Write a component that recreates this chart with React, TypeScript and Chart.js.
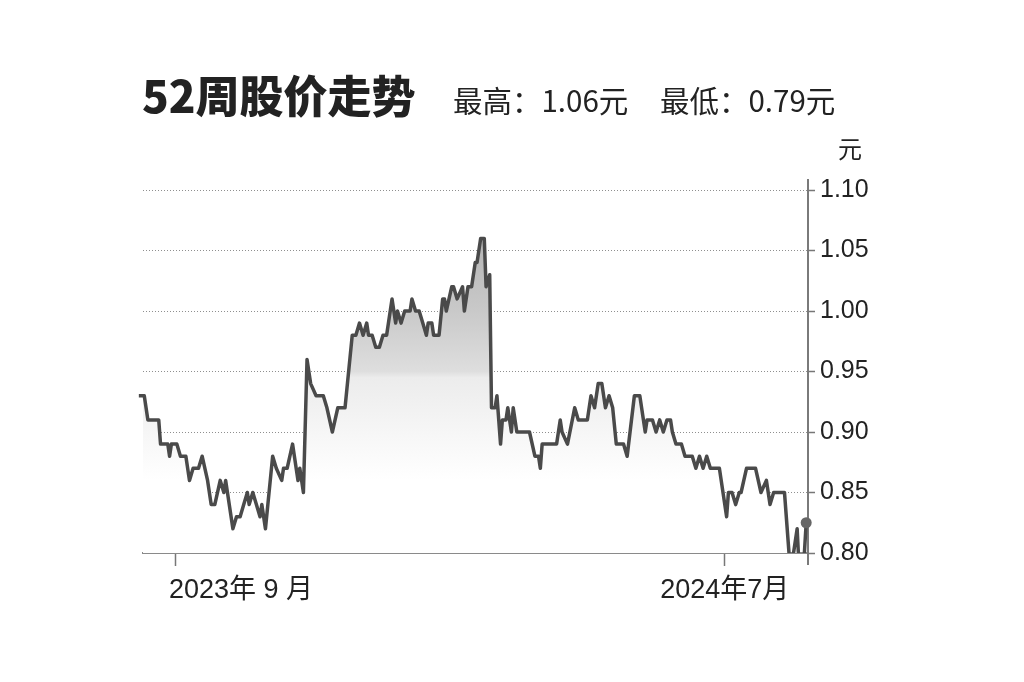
import React, { useEffect, useRef } from 'react';
import { Chart, registerables } from 'chart.js';

Chart.register(...registerables);

// x values: calendar days counted from 2023-08-01
const tradeDays = [
  11, 14, 16, 22, 23, 27, 28, 29, 32, 34,
  37, 39, 41, 44, 46, 49, 51, 53, 56, 58,
  59, 63, 65, 67, 69, 71, 72, 74, 76, 78,
  79, 81, 85, 87, 90, 91, 93, 96, 99, 100,
  102, 104, 106, 109, 113, 115, 118, 121, 125, 129,
  131, 133, 135, 137, 138, 140, 142, 144, 146, 148,
  151, 153, 154, 156, 158, 161, 162, 164, 166, 168,
  170, 171, 173, 174, 177, 179, 180, 181, 184, 185,
  187, 190, 191, 193, 195, 197, 198, 200, 202, 203,
  205, 206, 208, 209, 211, 212, 214, 215, 217, 218,
  220, 227, 230, 232, 233, 234, 242, 244, 245, 248,
  252, 254, 259, 261, 263, 265, 267, 269, 271, 273,
  275, 279, 281, 285, 288, 291, 292, 295, 297, 299,
  301, 303, 305, 306, 308, 311, 313, 317, 319, 321,
  323, 325, 327, 332, 336, 337, 339, 341, 343, 344,
  347, 352, 355, 358, 360, 362, 368, 371, 373, 375,
  376, 379, 380,
];

const closePrices = [
  0.93, 0.93, 0.91, 0.91, 0.89, 0.89, 0.88, 0.89, 0.89, 0.88,
  0.88, 0.86, 0.87, 0.87, 0.88, 0.86, 0.84, 0.84, 0.86, 0.85,
  0.86, 0.82, 0.83, 0.83, 0.84, 0.85, 0.84, 0.85, 0.84, 0.83,
  0.84, 0.82, 0.88, 0.87, 0.86, 0.87, 0.87, 0.89, 0.86, 0.87,
  0.85, 0.96, 0.94, 0.93, 0.93, 0.92, 0.90, 0.92, 0.92, 0.98,
  0.98, 0.99, 0.98, 0.99, 0.98, 0.98, 0.97, 0.97, 0.98, 0.98,
  1.01, 0.99, 1.00, 0.99, 1.00, 1.00, 1.01, 1.00, 1.00, 0.99,
  0.98, 0.99, 0.99, 0.98, 0.98, 1.01, 1.01, 1.00, 1.02, 1.02,
  1.01, 1.02, 1.00, 1.02, 1.02, 1.04, 1.04, 1.06, 1.06, 1.02,
  1.03, 0.92, 0.92, 0.93, 0.89, 0.91, 0.91, 0.92, 0.90, 0.92,
  0.90, 0.90, 0.88, 0.88, 0.87, 0.89, 0.89, 0.91, 0.90, 0.89,
  0.92, 0.91, 0.91, 0.93, 0.92, 0.94, 0.94, 0.92, 0.93, 0.92,
  0.89, 0.89, 0.88, 0.93, 0.93, 0.90, 0.91, 0.91, 0.90, 0.91,
  0.90, 0.91, 0.91, 0.90, 0.89, 0.89, 0.88, 0.88, 0.87, 0.88,
  0.87, 0.88, 0.87, 0.87, 0.83, 0.85, 0.85, 0.84, 0.85, 0.85,
  0.87, 0.87, 0.85, 0.86, 0.84, 0.85, 0.85, 0.79, 0.80, 0.82,
  0.79, 0.80, 0.825,
];

const xTickDays = [31, 335];
const xTickLabels = ['2023年 9 月', '2024年7月'];
const yTickValues = [0.8, 0.85, 0.9, 0.95, 1.0, 1.05, 1.1];

const titleText = '52周股价走势';
const highText = '最高：1.06元';
const lowText = '最低：0.79元';
const unitText = '元';

export default function App() {
  const ref = useRef<HTMLCanvasElement>(null);

  useEffect(() => {
    const canvas = ref.current;
    if (!canvas) return;

    const extras = {
      id: 'extras',
      beforeDatasetsDraw(chart: any) {
        const { ctx, chartArea, scales } = chart;
        const y = scales.y;
        ctx.save();
        ctx.strokeStyle = '#7a7a7a';
        ctx.lineWidth = 2;
        ctx.beginPath();
        ctx.moveTo(chartArea.right, y.getPixelForValue(yTickValues[yTickValues.length - 1]) - 11);
        ctx.lineTo(chartArea.right, chartArea.bottom + 12);
        ctx.stroke();
        ctx.restore();
      },
      afterDraw(chart: any) {
        const { ctx, chartArea, scales } = chart;
        const x = scales.x;
        ctx.save();
        ctx.fillStyle = '#222';
        ctx.font = '27px "Liberation Sans", "Noto Sans CJK SC", sans-serif';
        ctx.textBaseline = 'top';
        xTickDays.forEach((d, i) => {
          const px = x.getPixelForValue(d);
          ctx.textAlign = i === 0 ? 'left' : 'center';
          ctx.fillText(xTickLabels[i], i === 0 ? px - 6 : px, chartArea.bottom + 24);
        });
        ctx.restore();
      },
    };

    const lastIndex = closePrices.length - 1;

    const chart = new Chart(canvas, {
      type: 'line',
      data: {
        datasets: [
          {
            data: tradeDays.map((d, i) => ({ x: d, y: closePrices[i] })),
            borderColor: '#4a4a4a',
            borderWidth: 3.5,
            borderJoinStyle: 'round',
            tension: 0,
            fill: 'start',
            backgroundColor: (c: any) => {
              const ch = c.chart;
              if (!ch.chartArea) return 'rgba(0,0,0,0)';
              const ys = ch.scales.y;
              const g = ch.ctx.createLinearGradient(0, ys.getPixelForValue(1.06), 0, ys.getPixelForValue(0.86));
              g.addColorStop(0, '#b5b5b5');
              g.addColorStop(0.3, '#c9c9c9');
              g.addColorStop(0.55, '#dedede');
              g.addColorStop(0.575, '#ececec');
              g.addColorStop(0.8, '#f6f6f6');
              g.addColorStop(1, '#ffffff');
              return g;
            },
            pointRadius: (c: any) => (c.dataIndex === lastIndex ? 5.5 : 0),
            pointHoverRadius: 0,
            pointBackgroundColor: '#666',
            pointBorderWidth: 0,
            clip: { left: 8, right: 8, top: false, bottom: 0 } as any,
          },
        ],
      },
      options: {
        responsive: false,
        animation: false,
        events: [],
        layout: { padding: { left: 143, top: 190, right: 0, bottom: 0 } },
        plugins: {
          legend: { display: false },
          tooltip: { enabled: false },
          title: { display: false },
        },
        scales: {
          x: {
            type: 'linear',
            min: 13.3,
            max: 381,
            afterBuildTicks: (s: any) => {
              s.ticks = xTickDays.map((v) => ({ value: v }));
            },
            ticks: { display: false },
            grid: {
              drawOnChartArea: false,
              drawTicks: true,
              tickLength: 13,
              tickColor: '#777',
              tickWidth: 1.5,
            },
            border: { display: true, color: '#8a8a8a', width: 2 },
            afterFit: (s: any) => {
              s.height = 129;
            },
          },
          y: {
            position: 'right',
            min: 0.8,
            max: 1.1,
            afterBuildTicks: (s: any) => {
              s.ticks = yTickValues.map((v) => ({ value: v }));
            },
            ticks: {
              color: '#222',
              font: { size: 25, family: '"Liberation Sans", sans-serif' },
              padding: 5,
              callback: (v: any) => Number(v).toFixed(2),
            },
            grid: {
              color: '#8f8f8f',
              lineWidth: 1,
              drawTicks: true,
              tickLength: 7,
              tickColor: '#777',
              tickWidth: 1.5,
              tickBorderDash: [],
            },
            border: { display: false, dash: [1, 2] },
            afterFit: (s: any) => {
              s.width = 216;
            },
          },
        },
      },
      plugins: [extras],
    });

    return () => chart.destroy();
  }, []);

  const font = '"Noto Sans CJK SC", "Liberation Sans", sans-serif';

  return (
    <div style={{ position: 'fixed', left: 0, top: 0, width: 1024, height: 682, background: '#fff', overflow: 'hidden' }}>
      <canvas ref={ref} width={1024} height={682} style={{ position: 'absolute', left: 0, top: 0, width: 1024, height: 682 }} />
      <div style={{ position: 'absolute', left: 142, top: 72, fontFamily: font, fontSize: 44, fontWeight: 900, lineHeight: 1, color: '#222', whiteSpace: 'nowrap' }}>
        {titleText}
      </div>
      <div style={{ position: 'absolute', left: 453, top: 85, fontFamily: font, fontSize: 29.5, lineHeight: 1, color: '#222', whiteSpace: 'nowrap' }}>
        {highText}
      </div>
      <div style={{ position: 'absolute', left: 660, top: 85, fontFamily: font, fontSize: 29.5, lineHeight: 1, color: '#222', whiteSpace: 'nowrap' }}>
        {lowText}
      </div>
      <div style={{ position: 'absolute', left: 838, top: 136, fontFamily: font, fontSize: 24, lineHeight: 1, color: '#222' }}>
        {unitText}
      </div>
    </div>
  );
}
